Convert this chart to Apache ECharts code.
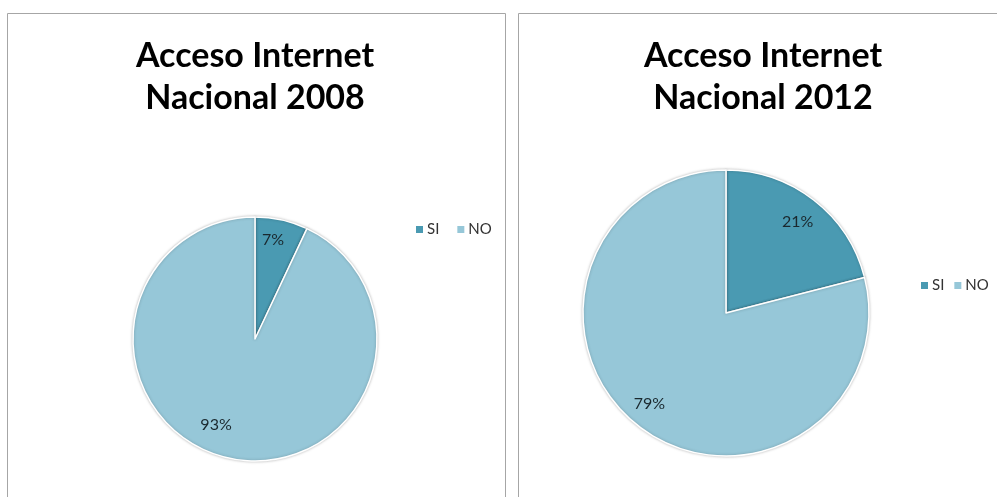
<!DOCTYPE html>
<html>
<head>
<meta charset="utf-8">
<script src="https://cdn.jsdelivr.net/npm/echarts@6/dist/echarts.min.js"></script>
<style>
  html, body { margin: 0; padding: 0; background: #ffffff; }
  #main { width: 997px; height: 497px; }
</style>
</head>
<body>
<div id="main"></div>
<script>
// data
var categories = ["SI", "NO"];
var values2008 = [7, 93];
var values2012 = [21, 79];
var titles = ["Acceso Internet\nNacional 2008", "Acceso Internet\nNacional 2012"];
var colors = ["#4a9ab2", "#96c7d8"];

// nudges so labels sit where Excel put them (per series, per slice)
var labelNudge = [
    [[4, -37], [-25, 23]],
    [[26, -32], [-31, 32]]
];

function makeData(aValues) {
    var aData = [];
    for (var i in aValues) {
        aData.push({ name: categories[i], value: aValues[i] });
    }
    return aData;
}

function nudgeFor(aSeries) {
    return function (params) {
        var aNudge = labelNudge[aSeries][params.dataIndex];
        return { dx: aNudge[0], dy: aNudge[1] };
    };
}

var pieStyle = {
    borderColor: "#ffffff",
    borderWidth: 1.5,
    shadowColor: "rgba(0,0,0,0.25)",
    shadowBlur: 3
};

var labelStyle = {
    show: true,
    position: "inside",
    formatter: "{c}%",
    color: "#1a282e",
    fontFamily: "Lato",
    fontSize: 16
};

var titleStyle = {
    fontFamily: "Lato",
    fontWeight: "bold",
    fontSize: 34,
    lineHeight: 42,
    color: "#000000"
};

var legendBase = {
    orient: "horizontal",
    icon: "rect",
    itemWidth: 9,
    itemHeight: 9,
    selectedMode: false,
    textStyle: { fontFamily: "Lato", fontSize: 15, color: "#333333", padding: [0, 0, 0, -2] },
    data: categories
};

var chart = echarts.init(document.getElementById("main"));
var option = {
    animation: false,
    color: colors,
    title: [
        { text: titles[0], left: 250, top: 30, textAlign: "center", textStyle: titleStyle },
        { text: titles[1], left: 758, top: 30, textAlign: "center", textStyle: titleStyle }
    ],
    legend: [
        Object.assign({}, legendBase, { left: 409, top: 217, itemGap: 16 }),
        Object.assign({}, legendBase, { left: 914, top: 273, itemGap: 8 })
    ],
    graphic: [
        { type: "rect", shape: { x: 7.5, y: 13.5, width: 498, height: 500 }, style: { fill: null, stroke: "#a6a6a6", lineWidth: 1 } },
        { type: "rect", shape: { x: 518.5, y: 13.5, width: 500, height: 500 }, style: { fill: null, stroke: "#a6a6a6", lineWidth: 1 } }
    ],
    series: [
        {
            type: "pie",
            center: [255, 339],
            radius: 122,
            startAngle: 90,
            itemStyle: pieStyle,
            label: labelStyle,
            labelLine: { show: false },
            labelLayout: nudgeFor(0),
            data: makeData(values2008)
        },
        {
            type: "pie",
            center: [726, 313],
            radius: 143,
            startAngle: 90,
            itemStyle: pieStyle,
            label: labelStyle,
            labelLine: { show: false },
            labelLayout: nudgeFor(1),
            data: makeData(values2012)
        }
    ]
};
chart.setOption(option);
</script>
</body>
</html>
